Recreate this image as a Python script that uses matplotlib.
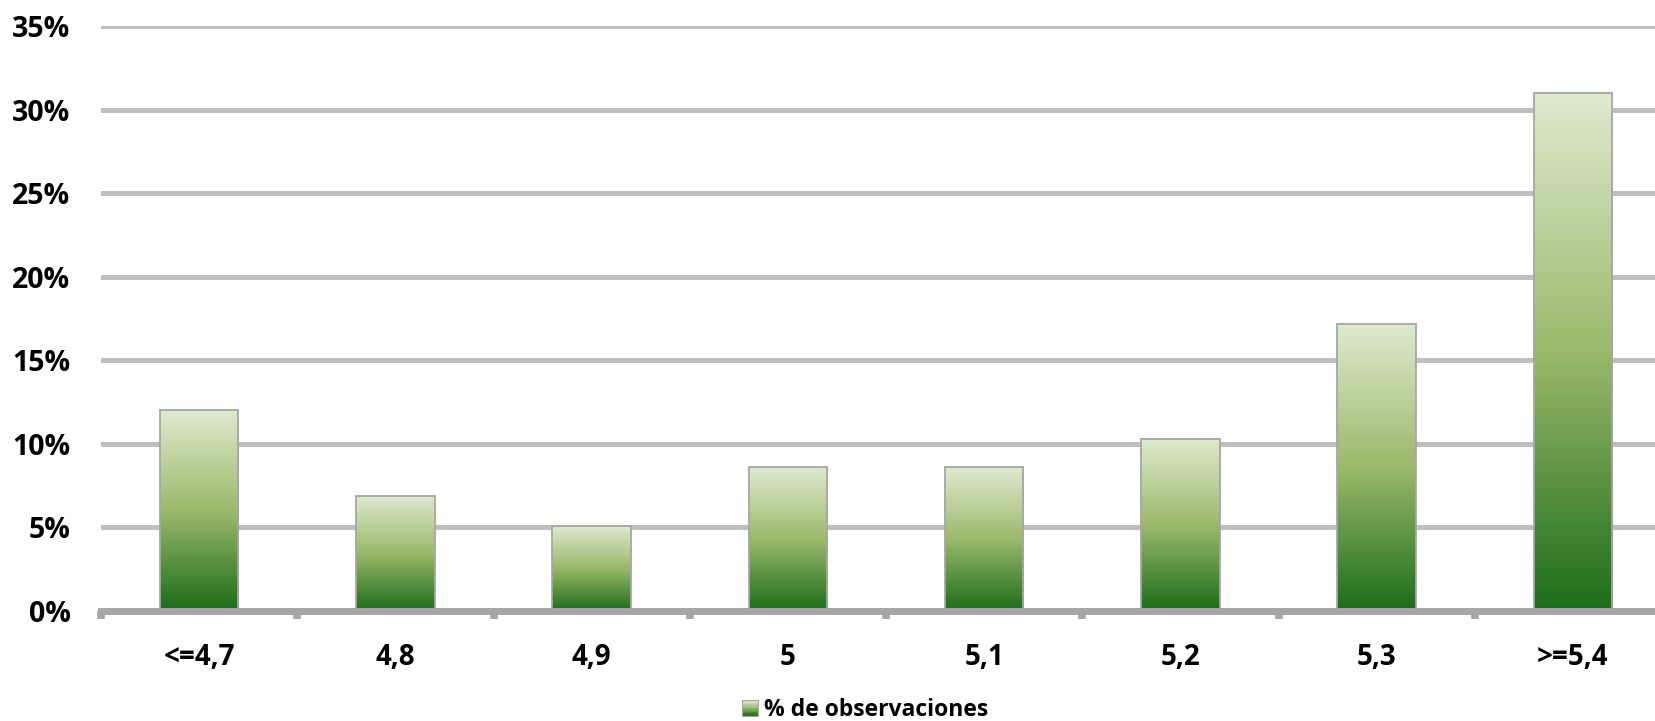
import numpy as np
import matplotlib
matplotlib.use("Agg")
import matplotlib.pyplot as plt
from matplotlib.colors import LinearSegmentedColormap
from matplotlib.legend_handler import HandlerBase
from matplotlib.patches import Rectangle

categories = ["<=4,7", "4,8", "4,9", "5", "5,1", "5,2", "5,3", ">=5,4"]
values = [12.0, 6.9, 5.1, 8.6, 8.6, 10.3, 17.2, 31.0]
yticks = [0, 5, 10, 15, 20, 25, 30, 35]
series_name = "% de observaciones"

plt.rcParams['font.family'] = ['Open Sans', 'DejaVu Sans']
plt.rcParams['font.weight'] = 'bold'

cmap = LinearSegmentedColormap.from_list(
    "g", [(0.0, "#1b6d19"), (0.5, "#9bb96b"), (1.0, "#dfeacf")])

fig = plt.figure(figsize=(16.55, 7.21), dpi=100)
ax = fig.add_axes([101/1655, 110/721, 1570/1655, 585/721])

width = 0.4
grad = np.linspace(0, 1, 256).reshape(-1, 1)
x = np.arange(len(categories))
bars = ax.bar(x, values, width=width, facecolor="none",
              edgecolor="#a6a6a6", linewidth=1.3, zorder=4)
for xi, v in zip(x, values):
    ax.imshow(grad, cmap=cmap, origin="lower", aspect="auto",
              extent=(xi - width/2, xi + width/2, 0, v), zorder=3,
              interpolation="bilinear")
ax.set_xlim(-0.5, len(categories) - 0.5)
ax.set_ylim(0, 35)

ax.set_yticks(yticks)
ax.set_yticklabels([f"{t}%" for t in yticks])
ax.yaxis.grid(True, color="#bfbfbf", linewidth=3.6, zorder=0)
ax.set_axisbelow(True)

ax.set_xticks(x)
ax.set_xticklabels(categories)
ax.set_xticks(np.arange(-0.5, len(categories), 1), minor=True)
ax.tick_params(axis="x", which="major", length=0, pad=23, labelsize=20)
ax.tick_params(axis="x", which="minor", length=6, width=5.5, color="#a6a6a6",
               direction="out")
ax.tick_params(axis="y", length=0, pad=22, labelsize=20.5)
for lab in ax.get_xticklabels() + ax.get_yticklabels():
    lab.set_fontweight("bold")

for s in ["top", "right", "left"]:
    ax.spines[s].set_visible(False)
ax.spines["bottom"].set_color("#a6a6a6")
ax.spines["bottom"].set_linewidth(5)
ax.spines["bottom"].set_zorder(5)


class GradHandler(HandlerBase):
    def create_artists(self, legend, orig_handle, xdescent, ydescent,
                       width, height, fontsize, trans):
        n = 12
        s = min(width, height) * 1.0
        x0 = xdescent + width - s
        y0 = -ydescent + (height - s) / 2
        arts = []
        for i in range(n):
            r = Rectangle((x0, y0 + i * s / n), s, s / n,
                          facecolor=cmap(i / (n - 1)), edgecolor="none",
                          transform=trans)
            arts.append(r)
        arts.append(Rectangle((x0, y0), s, s, facecolor="none",
                              edgecolor="#a6a6a6", linewidth=0.8,
                              transform=trans))
        return arts


proxy = Rectangle((0, 0), 1, 1)
leg = fig.legend([proxy], [series_name], handler_map={Rectangle: GradHandler()},
                 loc="center", bbox_to_anchor=(864/1655, 1 - 710/721),
                 frameon=False, handlelength=0.8, handletextpad=0.3,
                 borderpad=0, prop={"size": 16.5, "weight": "bold"})

fig.savefig("out.png", dpi=100)
